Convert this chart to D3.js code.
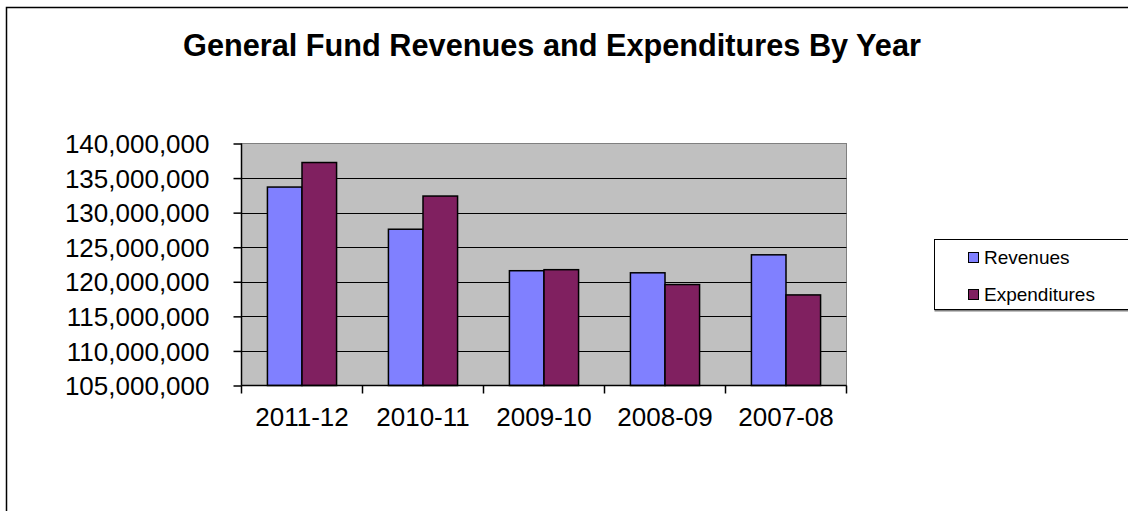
<!DOCTYPE html>
<html>
<head>
<meta charset="utf-8">
<script src="https://cdn.jsdelivr.net/npm/d3@7"></script>
<style>
  html, body { margin: 0; padding: 0; background: #fff; }
  svg { display: block; font-family: "Liberation Sans", Arial, sans-serif; }
</style>
</head>
<body>
<svg id="chart" width="1128" height="511"></svg>
<script>
const categories = ["2011-12", "2010-11", "2009-10", "2008-09", "2007-08"];
const seriesNames = ["Revenues", "Expenditures"];
const revenues = [133700000, 127600000, 121600000, 121300000, 123900000];
const expenditures = [137250000, 132400000, 121750000, 119600000, 118100000];
const yTicks = [105000000, 110000000, 115000000, 120000000, 125000000, 130000000, 135000000, 140000000];
const colors = ["#8080FF", "#802060"];

const svg = d3.select("#chart");

// outer chart border
svg.append("rect").attr("x", 6.5).attr("y", 7.5).attr("width", 1140).attr("height", 520)
  .attr("fill", "#fff").attr("stroke", "#000").attr("stroke-width", 1.5);

const plot = { left: 241.5, right: 846.5, top: 143.5, bottom: 385.5 };

const y = d3.scaleLinear().domain([105000000, 140000000]).range([plot.bottom, plot.top]);
const x0 = d3.scaleBand().domain(categories).range([plot.left, plot.right]).padding(0);
const x1 = d3.scaleBand().domain(seriesNames).range([0, x0.bandwidth()]).paddingInner(0).paddingOuter(0.75);

// plot area
svg.append("rect").attr("x", plot.left).attr("y", plot.top)
  .attr("width", plot.right - plot.left).attr("height", plot.bottom - plot.top)
  .attr("fill", "#C0C0C0").attr("stroke", "#808080").attr("stroke-width", 1);

// gridlines
svg.append("g").selectAll("line").data(yTicks.slice(1, -1)).join("line")
  .attr("x1", plot.left).attr("x2", plot.right)
  .attr("y1", d => Math.round(y(d)) + 0.5).attr("y2", d => Math.round(y(d)) + 0.5)
  .attr("stroke", "#000").attr("stroke-width", 1);

// bars
const data = categories.map((c, i) => ({ cat: c, vals: [revenues[i], expenditures[i]] }));
const groups = svg.append("g").selectAll("g").data(data).join("g")
  .attr("transform", d => `translate(${x0(d.cat)},0)`);
groups.selectAll("rect").data(d => d.vals.map((v, j) => ({ s: seriesNames[j], v, j }))).join("rect")
  .attr("x", d => x1(d.s)).attr("width", x1.bandwidth())
  .attr("y", d => y(d.v)).attr("height", d => y(105000000) - y(d.v))
  .attr("fill", d => colors[d.j]).attr("stroke", "#000").attr("stroke-width", 1.5);

// y axis
const yAxis = d3.axisLeft(y).tickValues(yTicks).tickSize(8).tickPadding(24)
  .tickFormat(d3.format(","));
const gy = svg.append("g").attr("transform", `translate(${plot.left},0)`).call(yAxis);
gy.select(".domain").attr("stroke", "#000").attr("stroke-width", 1.5).attr("d", `M0,${plot.top}V${plot.bottom}`);
gy.selectAll(".tick line").attr("stroke", "#000").attr("stroke-width", 1.5);
gy.selectAll(".tick text").attr("font-size", 26).attr("fill", "#000")
  .attr("font-family", "'Liberation Sans', Arial, sans-serif").attr("dy", "0.35em");

// x axis
const xAxis = d3.axisBottom(x0).tickSize(0).tickPadding(0);
const gx = svg.append("g").attr("transform", `translate(0,${plot.bottom})`).call(xAxis);
gx.select(".domain").attr("stroke", "#000").attr("stroke-width", 1.5).attr("d", `M${plot.left},0H${plot.right}`);
gx.selectAll(".tick text").attr("font-size", 26).attr("fill", "#000")
  .attr("font-family", "'Liberation Sans', Arial, sans-serif").attr("y", 40).attr("dy", 0);
// category separator ticks
const sepPositions = categories.map(c => x0(c)).concat([x0.range()[1]]);
gx.append("g").selectAll("line").data(sepPositions).join("line")
  .attr("x1", d => d).attr("x2", d => d).attr("y1", 0).attr("y2", 8)
  .attr("stroke", "#000").attr("stroke-width", 1.5);

// title
svg.append("text").attr("x", 552).attr("y", 56).attr("text-anchor", "middle")
  .attr("font-size", 30.7).attr("font-weight", "bold").attr("fill", "#000")
  .text("General Fund Revenues and Expenditures By Year");

// legend
const lg = svg.append("g");
lg.append("line").attr("x1", 934.5).attr("x2", 1140).attr("y1", 310.5).attr("y2", 310.5)
  .attr("stroke", "#808080").attr("stroke-width", 2);
lg.append("rect").attr("x", 934.5).attr("y", 239.5).attr("width", 210).attr("height", 70)
  .attr("fill", "#fff").attr("stroke", "#000").attr("stroke-width", 1);
const items = lg.selectAll("g.item").data(seriesNames).join("g").attr("class", "item")
  .attr("transform", (d, i) => `translate(0,${i * 37})`);
items.append("rect").attr("x", 968.5).attr("y", 252.5).attr("width", 10).attr("height", 10)
  .attr("fill", (d, i) => colors[i]).attr("stroke", "#000").attr("stroke-width", 1);
items.append("text").attr("x", 984).attr("y", 264).attr("font-size", 19).attr("fill", "#000")
  .text(d => d);
</script>
</body>
</html>
